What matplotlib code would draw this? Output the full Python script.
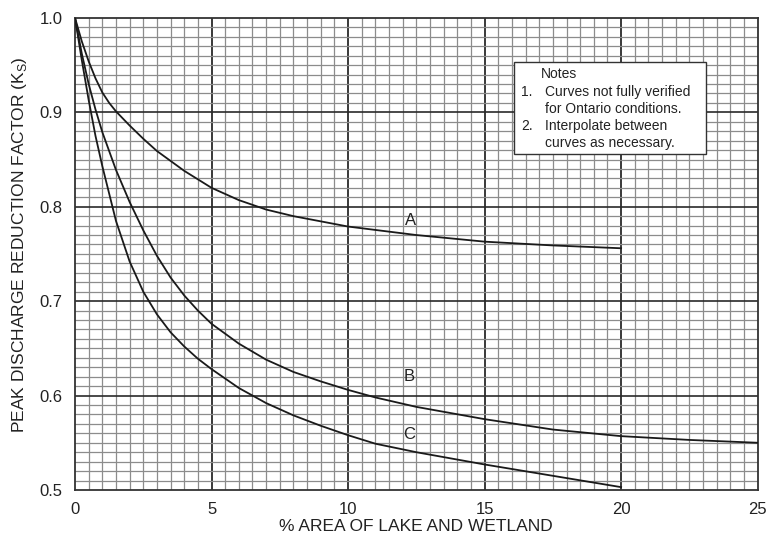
import numpy as np
import matplotlib
matplotlib.use("Agg")
import matplotlib.pyplot as plt

plt.rcParams['font.family'] = ['Liberation Sans', 'DejaVu Sans']

# curves (% area of lake/wetland vs Ks)
a_x = [0, 0.25, 0.5, 0.75, 1, 1.25, 1.5, 2, 2.5, 3, 4, 5, 6, 7, 8, 10,
       12.5, 15, 17.5, 20]
a_y = [1.0, 0.975, 0.954, 0.936, 0.921, 0.910, 0.901, 0.886, 0.872, 0.859,
       0.838, 0.820, 0.807, 0.797, 0.790, 0.779, 0.770, 0.763, 0.759, 0.756]

b_x = [0, 0.25, 0.5, 0.75, 1, 1.5, 2, 2.5, 3, 3.5, 4, 4.5, 5, 6, 7, 8,
       9, 10, 11, 12.5, 15, 17.5, 20, 22.5, 25]
b_y = [1.0, 0.962, 0.930, 0.903, 0.879, 0.839, 0.805, 0.775, 0.748, 0.725,
       0.706, 0.690, 0.676, 0.655, 0.638, 0.625, 0.615, 0.606, 0.598, 0.588,
       0.575, 0.564, 0.557, 0.553, 0.550]

c_x = [0, 0.25, 0.5, 0.75, 1, 1.5, 2, 2.5, 3, 3.5, 4, 4.5, 5, 6, 7, 8,
       9, 10, 11, 12.5, 15, 17.5, 20]
c_y = [1.0, 0.955, 0.913, 0.875, 0.843, 0.785, 0.742, 0.710, 0.686, 0.667,
       0.652, 0.639, 0.628, 0.608, 0.592, 0.579, 0.568, 0.558, 0.549, 0.540,
       0.527, 0.515, 0.503]

curve_labels = ['A', 'B', 'C']
label_x = [12.3, 12.25, 12.25]
label_y = [0.785, 0.620, 0.559]

x_ticks = [0, 5, 10, 15, 20, 25]
y_ticks = [0.5, 0.6, 0.7, 0.8, 0.9, 1.0]

note_nums = ["", "1.", "", "2.", ""]
note_lines = ["Notes",
              "Curves not fully verified",
              "for Ontario conditions.",
              "Interpolate between",
              "curves as necessary."]
note_y = [0.941, 0.921, 0.903, 0.885, 0.867]

fig = plt.figure(figsize=(7.67, 5.42), dpi=100)
ax = fig.add_axes([0.0978, 0.096, 0.890, 0.871])
ax.set_xlim(0, 25)
ax.set_ylim(0.5, 1.0)

# graph paper grid
for gx in np.arange(0.5, 25, 0.5):
    major = abs(gx % 5) < 1e-9
    ax.axvline(gx, color='#2a2a2a' if major else '#8c8c8c',
               lw=1.3 if major else 0.9, zorder=1)
for gy in np.arange(0.51, 1.0, 0.01):
    major = abs(round(gy * 100) % 10) == 0
    ax.axhline(gy, color='#2a2a2a' if major else '#8c8c8c',
               lw=1.2 if major else 0.9, zorder=1)

for xs, ys in [(a_x, a_y), (b_x, b_y), (c_x, c_y)]:
    ax.plot(xs, ys, color='#1a1a1a', lw=1.3, zorder=3,
            solid_joinstyle='round')

for lab, lx, ly in zip(curve_labels, label_x, label_y):
    ax.text(lx, ly, lab, fontsize=12, ha='center', va='center',
            color='#222222', zorder=4)

# notes box
ax.add_patch(plt.Rectangle((16.08, 0.856), 7.02, 0.097, facecolor='white',
                           edgecolor='#333333', lw=1.0, zorder=5))
for num, line, yy in zip(note_nums, note_lines, note_y):
    if num:
        ax.text(16.35, yy, num, fontsize=10, ha='left', va='center',
                color='#222222', zorder=6)
    ax.text(17.2 if num or line != "Notes" else 17.05, yy, line,
            fontsize=10, ha='left', va='center', color='#222222', zorder=6)

ax.set_xticks(x_ticks)
ax.set_xticklabels([str(t) for t in x_ticks])
ax.set_yticks(y_ticks)
ax.set_yticklabels([f"{t:.1f}" for t in y_ticks])
ax.tick_params(length=0, labelsize=12, pad=9, colors='#222222')
for s in ax.spines.values():
    s.set_color('#333333')
    s.set_linewidth(1.3)

ax.set_xlabel('% AREA OF LAKE AND WETLAND', fontsize=12.5, labelpad=1,
              color='#222222')
ax.set_ylabel('PEAK DISCHARGE REDUCTION FACTOR (K$_\\mathregular{S}$)',
              fontsize=12.5, color='#222222')
ax.yaxis.set_label_coords(-0.068, 0.52)

fig.savefig('out.png', dpi=100, facecolor='white')
